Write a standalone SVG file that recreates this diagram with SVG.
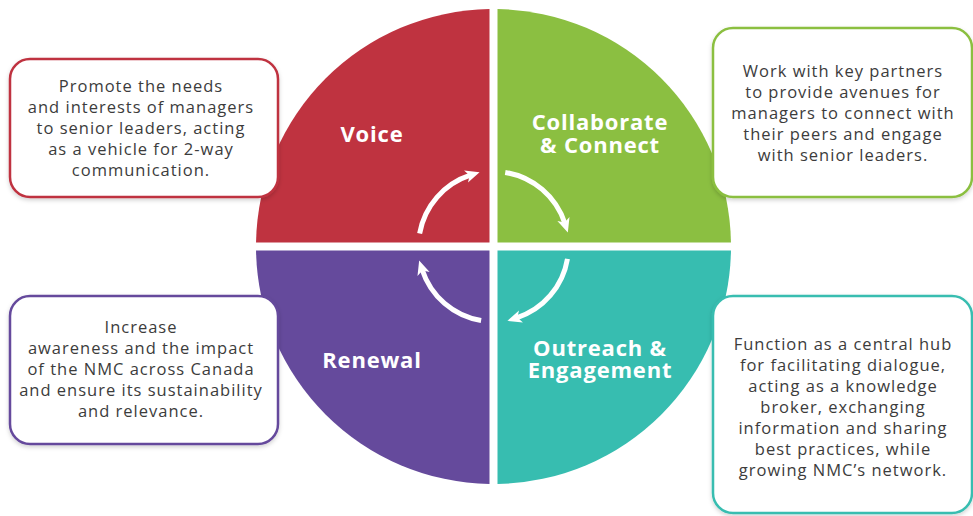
<svg xmlns="http://www.w3.org/2000/svg" width="973" height="516" viewBox="0 0 973 516">
<style>
.box{fill:#fff;stroke-width:2.5}
.desc{font-family:"Open Sans","Liberation Sans",sans-serif;font-size:16.5px;letter-spacing:1px;fill:#3c3c3c;text-anchor:middle}
.lab{font-family:"Open Sans","Liberation Sans",sans-serif;font-size:22px;letter-spacing:0.8px;font-weight:bold;fill:#fff;text-anchor:middle}
.arc{fill:none;stroke:#fff;stroke-width:5}
</style>
<defs>
<marker id="ah" markerUnits="userSpaceOnUse" markerWidth="30" markerHeight="30" viewBox="-20 -12 40 24" refX="-13" refY="0" orient="auto">
<path d="M0,0 L-19,-8.5 L-14,0 L-19,8.5 Z" fill="#fff"/>
</marker>
<filter id="sh" x="-10%" y="-10%" width="120%" height="125%">
<feDropShadow dx="0" dy="2" stdDeviation="2" flood-color="#000" flood-opacity="0.18"/>
</filter>
</defs>
<rect width="973" height="516" fill="#fff"/>
<g id="quadrants">
<path id="q-voice" d="M489.5,9.03 A237.5,237.5 0 0 0 256.03,242.5 L489.5,242.5 Z" fill="#bf3340"/>
<path id="q-collab" d="M497.5,9.03 A237.5,237.5 0 0 1 730.97,242.5 L497.5,242.5 Z" fill="#8bbf41"/>
<path id="q-outreach" d="M497.5,483.97 A237.5,237.5 0 0 0 730.97,250.5 L497.5,250.5 Z" fill="#37bdb0"/>
<path id="q-renewal" d="M489.5,483.97 A237.5,237.5 0 0 1 256.03,250.5 L489.5,250.5 Z" fill="#654a9c"/>
</g>
<g id="labels">
<text class="lab" x="372" y="142">Voice</text>
<text class="lab" x="600" y="130">Collaborate</text>
<text class="lab" x="600" y="153">&amp; Connect</text>
<text class="lab" x="600" y="356">Outreach &amp;</text>
<text class="lab" x="600" y="378">Engagement</text>
<text class="lab" x="372" y="368">Renewal</text>
</g>
<g id="connectors">
<path class="arc" marker-end="url(#ah)" d="M419.64,233.48 A75,75 0 0 1 470.32,175.17"/>
<path class="arc" marker-end="url(#ah)" d="M505.23,172.42 A75,75 0 0 1 564.83,223.32"/>
<path class="arc" marker-end="url(#ah)" d="M567.47,258.88 A75,75 0 0 1 516.68,317.83"/>
<path class="arc" marker-end="url(#ah)" d="M481.12,320.47 A75,75 0 0 1 422.17,269.68"/>
</g>
<g id="box-voice">
<rect class="box" x="10" y="59" width="268" height="138" rx="20" stroke="#bf3340" filter="url(#sh)"/>
<text class="desc"><tspan x="141" y="92">Promote the needs</tspan><tspan x="141" y="113">and interests of managers</tspan><tspan x="141" y="134">to senior leaders, acting</tspan><tspan x="141" y="155">as a vehicle for 2-way</tspan><tspan x="141" y="176">communication.</tspan></text>
</g>
<g id="box-collab">
<rect class="box" x="713" y="28" width="259" height="169" rx="20" stroke="#8bbf41" filter="url(#sh)"/>
<text class="desc"><tspan x="843" y="77">Work with key partners</tspan><tspan x="843" y="98">to provide avenues for</tspan><tspan x="843" y="119">managers to connect with</tspan><tspan x="843" y="140">their peers and engage</tspan><tspan x="843" y="161">with senior leaders.</tspan></text>
</g>
<g id="box-renewal">
<rect class="box" x="10" y="296" width="268" height="148" rx="20" stroke="#654a9c" filter="url(#sh)"/>
<text class="desc"><tspan x="141" y="333">Increase</tspan><tspan x="141" y="354">awareness and the impact</tspan><tspan x="141" y="375">of the NMC across Canada</tspan><tspan x="141" y="396">and ensure its sustainability</tspan><tspan x="141" y="417">and relevance.</tspan></text>
</g>
<g id="box-outreach">
<rect class="box" x="713" y="296" width="259" height="217" rx="20" stroke="#37bdb0" filter="url(#sh)"/>
<text class="desc"><tspan x="843" y="350">Function as a central hub</tspan><tspan x="843" y="371">for facilitating dialogue,</tspan><tspan x="843" y="392">acting as a knowledge</tspan><tspan x="843" y="413">broker, exchanging</tspan><tspan x="843" y="434">information and sharing</tspan><tspan x="843" y="455">best practices, while</tspan><tspan x="843" y="476">growing NMC’s network.</tspan></text>
</g>
</svg>
